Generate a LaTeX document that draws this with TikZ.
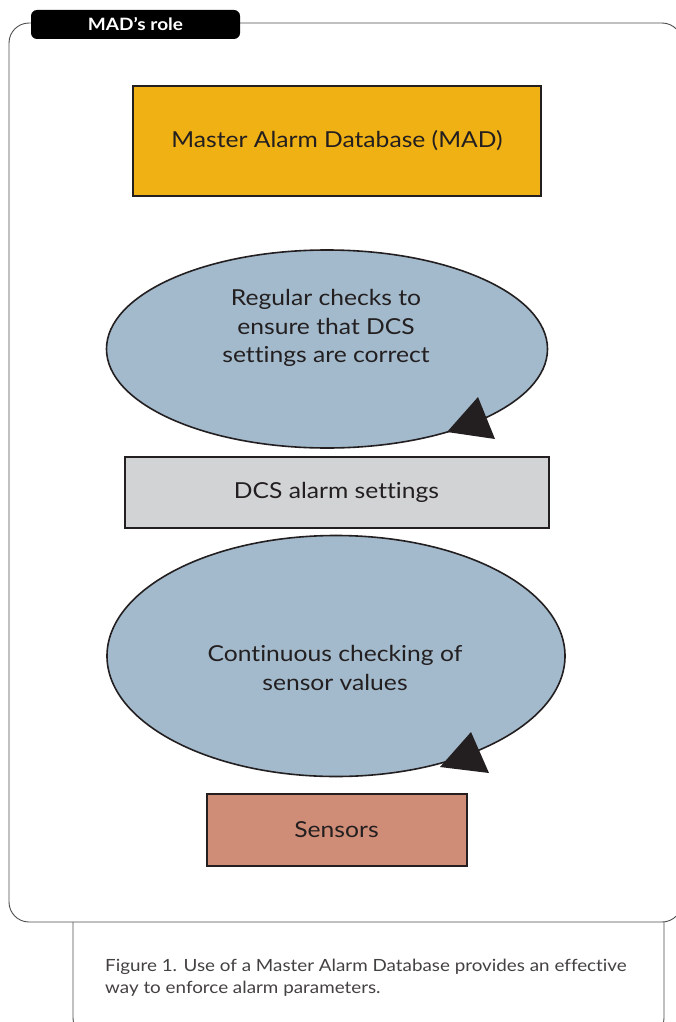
\documentclass[tikz,border=0pt]{standalone}
\usepackage{fontspec}
\setmainfont[FakeStretch=1.12,Ligatures=NoCommon]{Lato}
\usetikzlibrary{shapes.geometric}
\definecolor{ink}{HTML}{231F20}
\definecolor{madfill}{HTML}{EFB113}
\definecolor{ellfill}{HTML}{A3BACC}
\definecolor{dcsfill}{HTML}{D2D3D5}
\definecolor{senfill}{HTML}{CF8C77}
\definecolor{framec}{HTML}{4D4D4D}
\tikzset{
  boxnode/.style={draw=ink, line width=2pt, inner sep=0pt, text=ink, font=\fontsize{22}{26}\selectfont},
  ellnode/.style={ellipse, draw=ink, line width=1.6pt, fill=ellfill, inner sep=0pt},
  elltext/.style={text=ink, font=\fontsize{22}{28.5}\selectfont, align=center},
  framel/.style={draw=framec, line width=0.9pt},
  tip/.style={fill=ink, draw=none}
}
\begin{document}
\begin{tikzpicture}[x=1pt,y=-1pt]
\useasboundingbox (0,0) rectangle (676,1022);
\fill[white] (0,0) rectangle (676,1022);
% frames
\draw[framel, rounded corners=16pt] (73,900) -- (73,1034) -- (664,1034) -- (664,900);
\draw[framel, fill=white, rounded corners=20pt] (9,23) rectangle (682,922);
% tab
\node[fill=black, rounded corners=6pt, minimum width=209pt, minimum height=29pt, inner sep=0pt,
  text=white, font=\fontsize{17}{20}\selectfont\bfseries] (tab) at (135.5,24.5) {MAD’s role};
% MAD box
\node[boxnode, fill=madfill, minimum width=408pt, minimum height=110pt] (mad) at (337,141) {Master Alarm Database (MAD)};
% ellipse 1
\node[ellnode, minimum width=441pt, minimum height=198pt] (e1) at (327,349) {};
\node[elltext] (t1) at (326,328) {Regular checks to\\ensure that DCS\\settings are correct};
\fill[tip] (478,397) -- (447,432) -- (495,439) -- cycle;
% DCS box
\node[boxnode, fill=dcsfill, minimum width=424pt, minimum height=71pt] (dcs) at (336.5,492.5) {DCS alarm settings};
% ellipse 2
\node[ellnode, minimum width=458pt, minimum height=241pt] (e2) at (336,656) {};
\node[elltext] (t2) at (335,668) {Continuous checking of\\sensor values};
\fill[tip] (471,732) -- (440,767) -- (489,773) -- cycle;
% sensors
\node[boxnode, fill=senfill, minimum width=260pt, minimum height=72pt] (sen) at (336.5,829.5) {Sensors};
% caption
\node[anchor=north west, text=ink!85, font=\fontsize{16.8}{22}\selectfont, align=left, inner sep=0pt] (cap) at (105,959)
  {Figure 1. Use of a Master Alarm Database provides an effective\\way to enforce alarm parameters.};
\end{tikzpicture}
\end{document}
